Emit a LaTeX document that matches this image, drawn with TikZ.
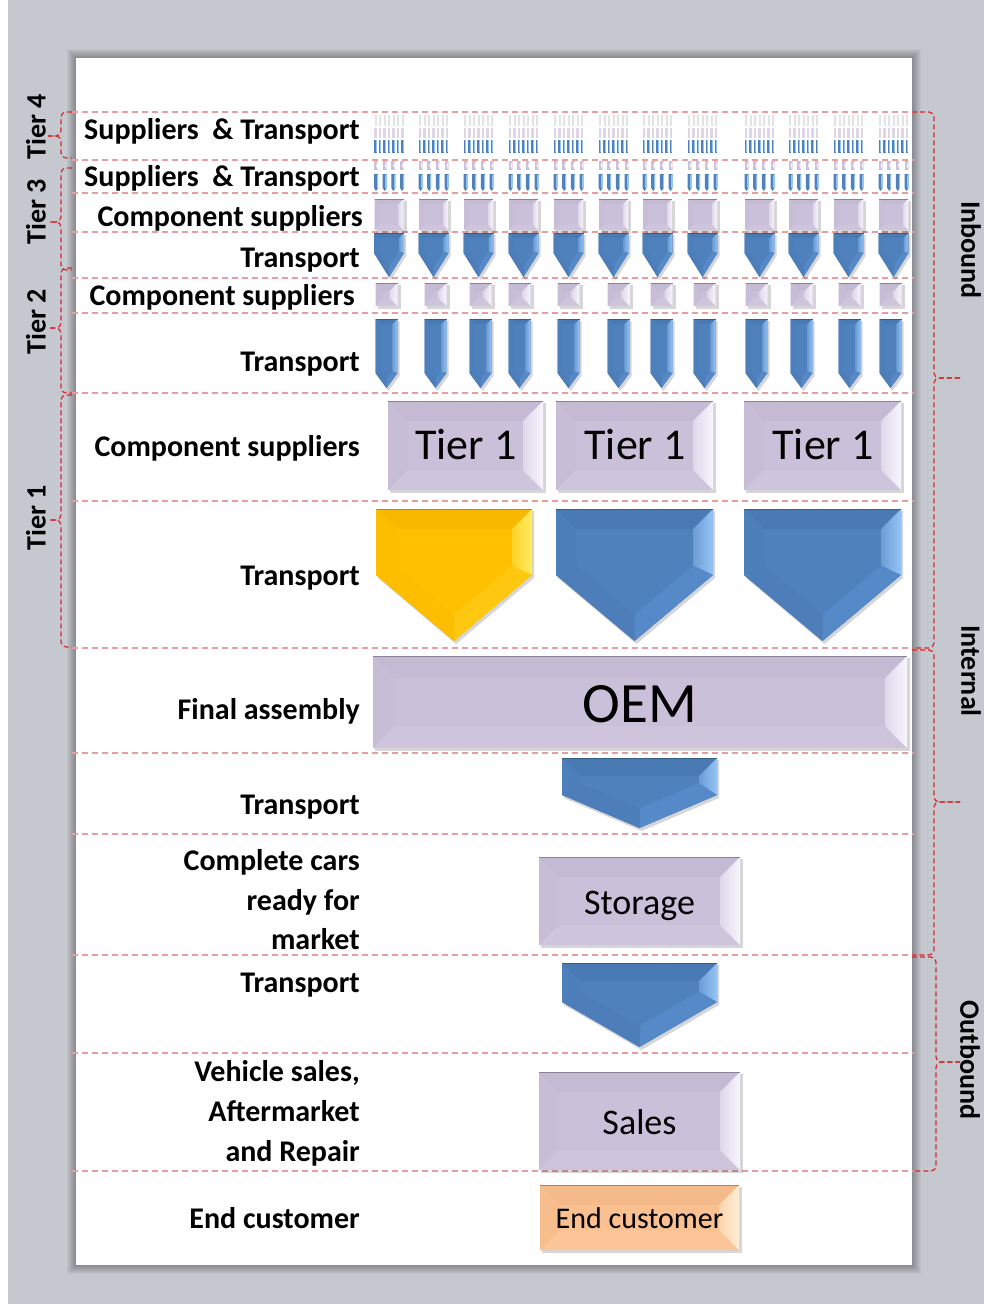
\documentclass[tikz,border=0pt]{standalone}
\usepackage{fontspec}
\setmainfont{Carlito}
\usetikzlibrary{calc}

\definecolor{bgcol}{RGB}{197,200,206}
\definecolor{guidecol}{RGB}{232,158,158}
\definecolor{bracecol}{RGB}{214,40,44}
% lavender boxes
\definecolor{lavmain}{RGB}{202,192,217}
\definecolor{lavtop}{RGB}{196,186,212}
\definecolor{lavright}{RGB}{248,245,253}
\definecolor{lavbot}{RGB}{206,197,221}
\definecolor{lavleft}{RGB}{199,189,214}
% orange box
\definecolor{orgmain}{RGB}{250,192,144}
\definecolor{orgtop}{RGB}{245,186,138}
\definecolor{orgright}{RGB}{255,238,214}
\definecolor{orgbot}{RGB}{251,197,151}
\definecolor{orgleft}{RGB}{247,189,141}
% blue chevrons
\definecolor{blumain}{RGB}{79,129,189}
\definecolor{blutop}{RGB}{73,122,180}
\definecolor{bluright}{RGB}{150,196,245}
\definecolor{blulr}{RGB}{85,137,199}
\definecolor{blull}{RGB}{77,126,186}
\definecolor{bluleft}{RGB}{77,127,187}
% yellow chevron
\definecolor{yelmain}{RGB}{255,192,0}
\definecolor{yeltop}{RGB}{248,184,0}
\definecolor{yelright}{RGB}{255,236,100}
\definecolor{yellr}{RGB}{255,200,16}
\definecolor{yelll}{RGB}{253,189,0}
\definecolor{yelleft}{RGB}{253,190,0}

% bevelled rectangle: x1, y1, x2, y2, bevel, palette
\newcommand{\bevrect}[6]{%
  \fill[black,opacity=.16] ({#1+2},{#2+2}) rectangle ({#3+3},{#4+3});
  \fill[#6main] ({#1},{#2}) rectangle ({#3},{#4});
  \fill[#6top] ({#1},{#2}) -- ({#3},{#2}) -- ({#3-#5},{#2+#5}) -- ({#1+#5},{#2+#5}) -- cycle;
  \fill[#6left] ({#1},{#2}) -- ({#1},{#4}) -- ({#1+#5},{#4-#5}) -- ({#1+#5},{#2+#5}) -- cycle;
  \fill[#6bot] ({#1},{#4}) -- ({#3},{#4}) -- ({#3-#5},{#4-#5}) -- ({#1+#5},{#4-#5}) -- cycle;
  \shade[left color=#6right!45!#6main, right color=#6right] ({#3},{#2}) -- ({#3},{#4}) -- ({#3-#5},{#4-#5}) -- ({#3-#5},{#2+#5}) -- cycle;
  \draw[#6top!70!black, line width=0.8pt] ({#1},{#2}) -- ({#3},{#2});
}

% bevelled down-pointing chevron: cx, ytop, width, yrect, ytip, bevel, palette
\newcommand{\chev}[7]{%
  \pgfmathsetmacro\chHW{#3/2}
  \pgfmathsetmacro\chS{(#5-#4)/\chHW}
  \pgfmathsetmacro\chK{#6*sqrt(1+\chS*\chS)}
  \pgfmathsetmacro\chXL{#1-\chHW}
  \pgfmathsetmacro\chXR{#1+\chHW}
  \pgfmathsetmacro\chXLi{\chXL+#6}
  \pgfmathsetmacro\chXRi{\chXR-#6}
  \pgfmathsetmacro\chYT{#2+#6}
  \pgfmathsetmacro\chYC{#4+#6*\chS-\chK}
  \pgfmathsetmacro\chYD{#5-\chK}
  \fill[black,opacity=.16] ({\chXL+2},{#2+2}) -- ({\chXR+2},{#2+2}) -- ({\chXR+2},{#4+3}) -- ({#1+2},{#5+3}) -- ({\chXL+2},{#4+3}) -- cycle;
  \fill[#7main] (\chXL,#2) -- (\chXR,#2) -- (\chXR,#4) -- (#1,#5) -- (\chXL,#4) -- cycle;
  \fill[#7top] (\chXL,#2) -- (\chXR,#2) -- (\chXRi,\chYT) -- (\chXLi,\chYT) -- cycle;
  \shade[left color=#7right!40!#7main, right color=#7right] (\chXR,#2) -- (\chXR,#4) -- (\chXRi,\chYC) -- (\chXRi,\chYT) -- cycle;
  \fill[#7lr] (\chXR,#4) -- (#1,#5) -- (#1,\chYD) -- (\chXRi,\chYC) -- cycle;
  \fill[#7ll] (#1,#5) -- (\chXL,#4) -- (\chXLi,\chYC) -- (#1,\chYD) -- cycle;
  \fill[#7left] (\chXL,#4) -- (\chXL,#2) -- (\chXLi,\chYT) -- (\chXLi,\chYC) -- cycle;
  \draw[#7top!75!black, line width=0.7pt] (\chXL,#2) -- (\chXR,#2);
}

\tikzset{
  guide/.style={draw=guidecol, dash pattern=on 6pt off 4pt, line width=1.1pt},
  brc/.style={draw=bracecol, dash pattern=on 5pt off 3pt, line width=1.2pt, rounded corners=5pt},
  lbl/.style={font=\fontsize{30}{34}\selectfont\bfseries, anchor=base east, inner sep=0pt},
  tierlbl/.style={font=\fontsize{28}{32}\selectfont\bfseries, inner sep=0pt, rotate=90},
  flowlbl/.style={font=\fontsize{28}{32}\selectfont\bfseries, inner sep=0pt, rotate=-90},
  boxtxt/.style={anchor=base, inner sep=0pt},
}

\begin{document}
\begin{tikzpicture}[x=1pt,y=-1pt]
\useasboundingbox (0,0) rectangle (984,1304);

% backdrop and page
\fill[white] (0,0) rectangle (984,1304);
\fill[bgcol] (8,0) rectangle (984,1304);
\foreach \d in {1,...,9}
  \fill[black,opacity=0.035] ({76-\d},{58-\d}) rectangle ({912+\d},{1265+\d});
\fill[white] (76,58) rectangle (912,1265);

% row separators
\foreach \yy in {112,160,193,232,278,313,393,501,648,753,834,955,1053,1171}
  \draw[guide] (72,\yy) -- (914,\yy);

% tier 4: suppliers and transport clusters
\foreach \c in {389,433.5,478.5,523.5,568.5,613.5,657.5,702.5,759.5,803.5,848.5,893.5}{
  \foreach \o in {-13.5,-9,-4.5,0,4.5,9,13.5}{
    \fill[gray!22] ({\c+\o-1},115) rectangle ({\c+\o+1},126);
    \fill[lavmain!65] ({\c+\o-1.2},128) rectangle ({\c+\o+1.2},138);
    \fill[blumain] ({\c+\o-1.3},140) rectangle ({\c+\o+1.3},153);
    \fill[bluright] ({\c+\o+0.3},140) rectangle ({\c+\o+1.3},152);
  }
}

% tier 3: suppliers and transport
\foreach \c in {389,433.5,478.5,523.5,568.5,613.5,657.5,702.5,759.5,803.5,848.5,893.5}{
  \foreach \o in {-13,-4.3,4.3,13}{
    \fill[lavmain] ({\c+\o-2},161) rectangle ({\c+\o+2},170);
    \fill[lavright] ({\c+\o+2},161) -- ({\c+\o+2},170) -- ({\c+\o},165.5) -- cycle;
    \fill[blumain] ({\c+\o-2},174) -- ({\c+\o+2},174) -- ({\c+\o+2},188) -- ({\c+\o},191) -- ({\c+\o-2},188) -- cycle;
    \fill[bluright] ({\c+\o+0.7},175) rectangle ({\c+\o+2},188);
  }
  % tier 3 component suppliers
  \bevrect{\c-14.5}{199}{\c+14.5}{230}{5}{lav}
  % tier 3 transport
  \chev{\c}{233}{30}{253}{277}{5}{blu}
}

% tier 2: component suppliers and transport
\foreach \c in {386.5,435.5,480.5,519.5,568.5,618.5,661.5,704.5,756.5,801.5,849.5,890.5}{
  \bevrect{\c-11}{283}{\c+11}{306}{8}{lav}
  \chev{\c}{319}{22}{373}{388}{5}{blu}
}

% tier 1: component suppliers
\bevrect{388}{401}{543}{490}{20}{lav}
\bevrect{556}{401}{713}{490}{20}{lav}
\bevrect{744}{401}{901}{490}{20}{lav}
\node[boxtxt, font=\fontsize{44}{48}\selectfont] (tierA) at (466,459) {Tier 1};
\node[boxtxt, font=\fontsize{44}{48}\selectfont] (tierB) at (635,459) {Tier 1};
\node[boxtxt, font=\fontsize{44}{48}\selectfont] (tierC) at (823,459) {Tier 1};

% tier 1: transport
\chev{454}{509}{156}{575}{641}{20}{yel}
\chev{634.5}{509}{157}{575}{641}{20}{blu}
\chev{822.5}{509}{157}{575}{641}{20}{blu}

% final assembly
\bevrect{373}{656}{907}{748}{22}{lav}
\node[boxtxt, font=\fontsize{57}{62}\selectfont] (oem) at (640,722) {OEM};

% transport to storage
\chev{639.5}{758}{155}{795}{828}{18}{blu}

% storage
\bevrect{539}{857}{740}{945}{20}{lav}
\node[boxtxt, font=\fontsize{36}{40}\selectfont] (storage) at (639.5,914) {Storage};

% transport to sales
\chev{639.5}{963}{155}{1002}{1047}{18}{blu}

% sales
\bevrect{539}{1072}{740}{1170}{20}{lav}
\node[boxtxt, font=\fontsize{36}{40}\selectfont] (sales) at (639.5,1134) {Sales};

% end customer
\bevrect{540}{1185}{739}{1250}{20}{org}
\node[boxtxt, font=\fontsize{30}{34}\selectfont] (endbox) at (639.5,1228) {End customer};

% row labels
\node[lbl] (r1) at (360,139) {Suppliers\ \ \& Transport};
\node[lbl] (r2) at (360,186) {Suppliers\ \ \& Transport};
\node[lbl] (r3) at (363,226) {Component suppliers};
\node[lbl] (r4) at (360,267) {Transport};
\node[lbl] (r5) at (355,305) {Component suppliers};
\node[lbl] (r6) at (360,371) {Transport};
\node[lbl] (r7) at (360,456) {Component suppliers};
\node[lbl] (r8) at (360,585) {Transport};
\node[lbl] (r9) at (360,719) {Final assembly};
\node[lbl] (r10) at (360,814) {Transport};
\node[lbl] (r11a) at (360,870) {Complete cars};
\node[lbl] (r11b) at (360,910) {ready for};
\node[lbl] (r11c) at (360,949) {market};
\node[lbl] (r12) at (360,992) {Transport};
\node[lbl] (r13a) at (360,1081) {Vehicle sales,};
\node[lbl] (r13b) at (360,1121) {Aftermarket};
\node[lbl] (r13c) at (360,1161) {and Repair};
\node[lbl] (r14) at (360,1228) {End customer};

% tier braces on the left
\draw[brc] (72,112) -- (61,112) -- (61,136) -- (48,136);
\draw[brc] (48,136) -- (61,136) -- (61,158) -- (72,158);
\draw[brc] (72,168) -- (61,168) -- (61,222) -- (50,222);
\draw[brc] (50,222) -- (61,222) -- (61,270) -- (72,270);
\draw[brc] (72,268) -- (61,268) -- (61,328) -- (50,328);
\draw[brc] (50,328) -- (61,328) -- (61,393) -- (72,393);
\draw[brc] (72,395) -- (61,395) -- (61,520) -- (50,520);
\draw[brc] (50,520) -- (61,520) -- (61,647) -- (72,647);

\node[tierlbl] (t4) at (36,127) {Tier 4};
\node[tierlbl] (t3) at (36,212) {Tier 3};
\node[tierlbl] (t2) at (36,322) {Tier 2};
\node[tierlbl] (t1) at (36,518) {Tier 1};

% flow braces on the right
\draw[brc] (912,112) -- (934,112) -- (934,378) -- (960,378);
\draw[brc] (960,378) -- (934,378) -- (934,648) -- (912,648);
\draw[brc] (912,650) -- (934,650) -- (934,802) -- (960,802);
\draw[brc] (960,802) -- (934,802) -- (934,955) -- (912,955);
\draw[brc] (912,957) -- (936,957) -- (936,1062) -- (960,1062);
\draw[brc] (960,1062) -- (936,1062) -- (936,1171) -- (912,1171);

\node[flowlbl] (inbound) at (971,250) {Inbound};
\node[flowlbl] (internal) at (971,671) {Internal};
\node[flowlbl] (outbound) at (970,1060) {Outbound};
\end{tikzpicture}
\end{document}
